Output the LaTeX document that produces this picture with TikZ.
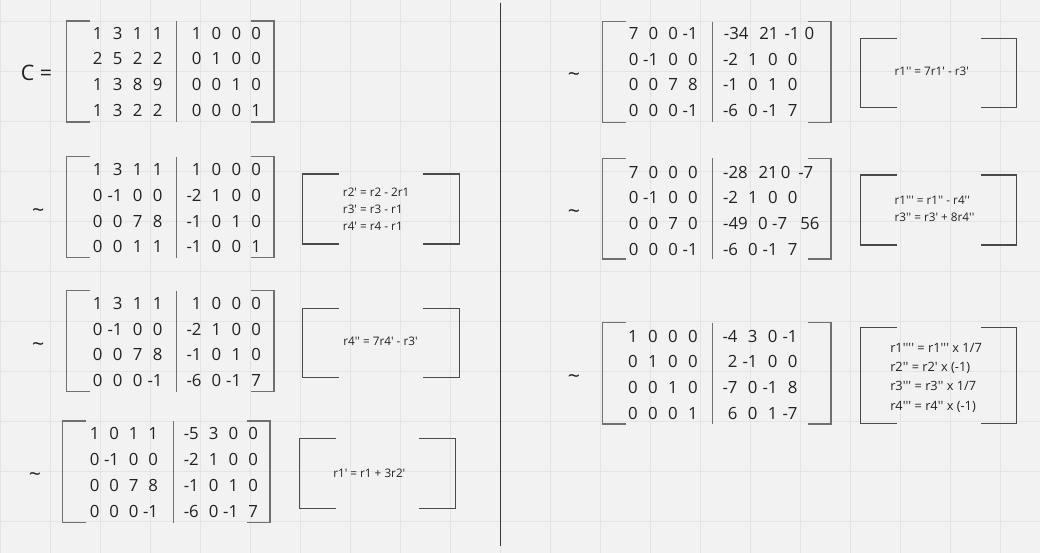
\documentclass[tikz,border=0pt]{standalone}
\usepackage{fontspec}
\newfontfamily\boardfont{Open Sans}

\definecolor{board}{HTML}{F2F2F2}
\definecolor{gridline}{HTML}{E4E4E4}
\definecolor{ink}{HTML}{222222}
\definecolor{brk}{HTML}{707070}
\definecolor{notec}{HTML}{4A4A4A}

\tikzset{
  entry/.style={anchor=base east, inner sep=0pt, xshift=3.6pt, yshift=-4.5pt,
    font=\boardfont\fontsize{12.6}{15}\selectfont, text=ink},
  brace/.style={draw=brk, line width=1pt},
  notebrace/.style={draw=notec, line width=1pt},
  notetext/.style={font=\boardfont\fontsize{8.8}{12.75}\selectfont, text=ink,
    align=left, inner sep=0pt},
  equiv/.style={font=\boardfont\fontsize{16}{18}\selectfont, text=ink, inner sep=0pt}
}

% one half of a matrix: name, first column x, column step, first row y, row step, rows
\newcommand{\mhalf}[6]{%
  \foreach \rw [count=\ri] in {#6} {
    \foreach \ent [count=\ci] in \rw
      \node[entry] (#1-\ri-\ci) at ({#2+(\ci-1)*#3},{#4+(\ri-1)*#5}) {\ent};
  }}
% a row with its own column positions: name, y, x/entry list
\newcommand{\mrowat}[3]{%
  \foreach \cx/\ent [count=\ci] in {#3}
    \node[entry] (#1-\ci) at (\cx,#2) {\ent};}
% matrix brackets: left x, right x, top y, bottom y, tick, separator x
\newcommand{\mbrackets}[6]{%
  \draw[brace] ({#1+#5},#3) -- (#1,#3) -- (#1,#4) -- ({#1+#5},#4);
  \draw[brace] ({#2-#5},#3) -- (#2,#3) -- (#2,#4) -- ({#2-#5},#4);
  \draw[brace] (#6,#3) -- (#6,#4);}
% note brackets: left x, right x, top y, bottom y, tick
\newcommand{\notebox}[5]{%
  \draw[notebrace] ({#1+#5},#3) -- (#1,#3) -- (#1,#4) -- ({#1+#5},#4);
  \draw[notebrace] ({#2-#5},#3) -- (#2,#3) -- (#2,#4) -- ({#2-#5},#4);}

\begin{document}
\begin{tikzpicture}[x=0.75pt,y=-0.75pt]
    \useasboundingbox (0,0) rectangle (1040,553);
    \fill[board] (0,0) rectangle (1040,553);
    \foreach \gx in {0,50,...,1000}
        \draw[gridline,line width=0.75pt] (\gx,0) -- (\gx,553);
    \foreach \gy in {21.7,71.7,...,530}
        \draw[gridline,line width=0.75pt] (0,\gy) -- (1040,\gy);

    % divider
    \coordinate (divtop) at (500.7,2.7);
    \coordinate (divbot) at (500.7,546.3);
    \draw[draw=ink!90,line width=1pt] (divtop) -- (divbot);

    % C
    \node[equiv] (clabel) at (36.5,73.3) {C =};
    \mbrackets{66.7}{274}{21}{122}{23.3}{176.7}
    \mhalf{ca}{98}{20}{33}{25.7}{{1,3,1,1},{2,5,2,2},{1,3,8,9},{1,3,2,2}}
    \mhalf{cb}{197}{19.8}{33}{25.7}{{1,0,0,0},{0,1,0,0},{0,0,1,0},{0,0,0,1}}

    % step 1
    \node[equiv] (eq1) at (38.3,213.3) {\textasciitilde};
    \mbrackets{66.7}{274}{156.7}{257.7}{23.3}{176.7}
    \mhalf{sa}{98}{20}{169.5}{25.8}{{1,3,1,1},{0,-1,0,0},{0,0,7,8},{0,0,1,1}}
    \mhalf{sb}{197}{19.8}{169.5}{25.8}{{1,0,0,0},{-2,1,0,0},{-1,0,1,0},{-1,0,0,1}}
    \notebox{302.7}{459.3}{174}{244}{36.7}
    \node[notetext,anchor=west] (note1) at (342.7,209.5)
        {r2' = r2 - 2r1\\r3' = r3 - r1\\r4' = r4 - r1};

    % step 2
    \node[equiv] (eq2) at (38.3,346.7) {\textasciitilde};
    \mbrackets{66.7}{274}{290.7}{391.7}{23.3}{176.7}
    \mhalf{ta}{98}{20}{303.5}{25.6}{{1,3,1,1},{0,-1,0,0},{0,0,7,8},{0,0,0,-1}}
    \mhalf{tb}{197}{19.8}{303.5}{25.6}{{1,0,0,0},{-2,1,0,0},{-1,0,1,0},{-6,0,-1,7}}
    \notebox{302.7}{459.3}{308.3}{377.7}{36.7}
    \node[notetext] (note2) at (380.5,341) {r4'' = 7r4' - r3'};

    % step 3
    \node[equiv] (eq3) at (35,477) {\textasciitilde};
    \mbrackets{62.7}{270}{421}{522.5}{23.3}{173.3}
    \mhalf{ua}{95}{19.5}{433.5}{26}{{1,0,1,1},{0,-1,0,0},{0,0,7,8},{0,0,0,-1}}
    \mhalf{ub}{194.3}{19.7}{433.5}{26}{{-5,3,0,0},{-2,1,0,0},{-1,0,1,0},{-6,0,-1,7}}
    \notebox{299.3}{455.3}{438.3}{508.3}{36.7}
    \node[notetext] (note3) at (369.3,473) {r1' = r1 + 3r2'};

    % step 4
    \node[equiv] (eq4) at (574,76.7) {\textasciitilde};
    \mbrackets{602.3}{831}{21.7}{122.3}{23.3}{712.3}
    \mhalf{va}{634}{19.7}{33.3}{25.7}{{7,0,0,-1},{0,-1,0,0},{0,0,7,8},{0,0,0,-1}}
    \mrowat{vb}{33.3}{744/-34,774/21,795/-1,809.7/0}
    \mhalf{vc}{733.5}{19.8}{59}{25.7}{{-2,1,0,0},{-1,0,1,0},{-6,0,-1,7}}
    \notebox{860.7}{1016.7}{38.3}{107.7}{36}
    \node[notetext] (note4) at (931.8,71.7) {r1'' = 7r1' - r3'};

    % step 5
    \node[equiv] (eq5) at (574,214) {\textasciitilde};
    \mbrackets{602.3}{831}{158.3}{259}{23.3}{712.3}
    \mhalf{wa}{634}{19.7}{172}{25.8}{{7,0,0,0},{0,-1,0,0},{0,0,7,0},{0,0,0,-1}}
    \mrowat{wb}{172}{743.3/-28,773.3/21,786/0,808.8/-7}
    \mhalf{wc}{733.5}{19.8}{197.8}{25.8}{{-2,1,0,0}}
    \mrowat{wd}{223.6}{743.3/-49,763.3/0,782.7/-7,815/56}
    \mhalf{we}{733.5}{19.8}{249.4}{25.8}{{-6,0,-1,7}}
    \notebox{860.7}{1016.7}{175}{245}{36}
    \node[notetext,anchor=west] (note5) at (894.3,208.7)
        {r1''' = r1'' - r4''\\r3'' = r3' + 8r4''};

    % step 6
    \node[equiv] (eq6) at (574,379) {\textasciitilde};
    \mbrackets{602.3}{831}{322.7}{424}{23.3}{712.3}
    \mhalf{xa}{633.3}{20}{336}{25.7}{{1,0,0,0},{0,1,0,0},{0,0,1,0},{0,0,0,1}}
    \mhalf{xb}{733}{20}{336}{25.7}{{-4,3,0,-1},{2,-1,0,0},{-7,0,-1,8},{6,0,1,-7}}
    \notebox{860.7}{1016.7}{327.3}{423.3}{36}
    \node[notetext,anchor=west,font=\boardfont\fontsize{9.6}{14.4}\selectfont] (note6) at (890,377.8)
        {r1'''' = r1''' x 1/7\\r2'' = r2' x (-1)\\r3''' = r3'' x 1/7\\r4''' = r4'' x (-1)};
\end{tikzpicture}
\end{document}
